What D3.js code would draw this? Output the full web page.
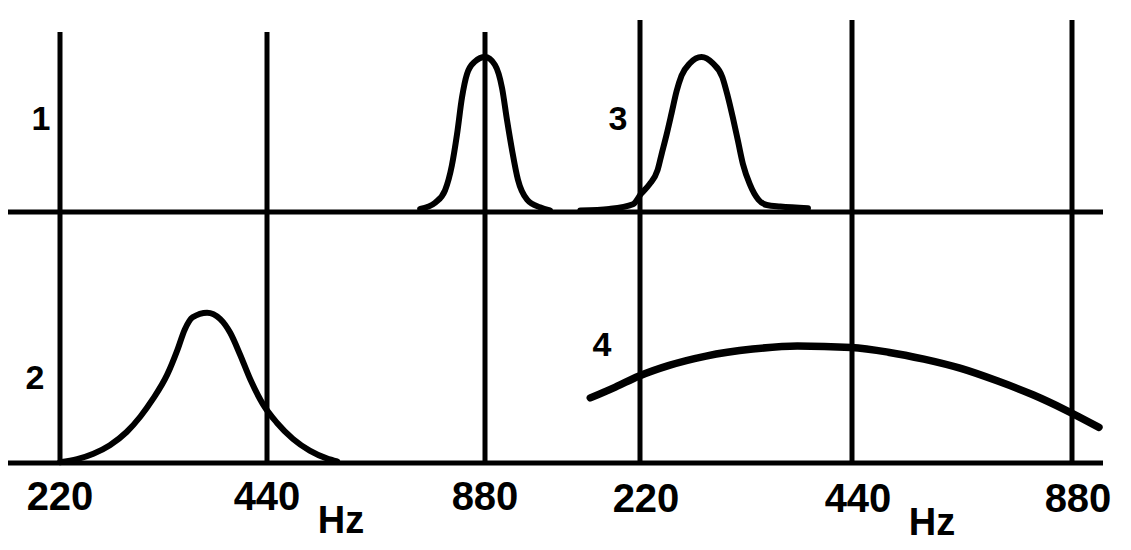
<!DOCTYPE html>
<html>
<head>
<meta charset="utf-8">
<script src="https://cdn.jsdelivr.net/npm/d3@7"></script>
<style>
  html, body { margin: 0; padding: 0; background: #fff; }
  svg { display: block; }
  text { font-family: "Liberation Sans", Arial, sans-serif; font-weight: bold; fill: #000; }
</style>
</head>
<body>
<svg id="chart" width="1131" height="550"></svg>
<script>
// ---- data ----
const tickFreqs = [220, 440, 880];
const tickLabels = ["220", "440", "880"];
const unitLabel = "Hz";
const curveNames = ["1", "2", "3", "4"];

// curve 1 : narrow band around 880 Hz (left panel, upper row)
const curve1Hz  = [716, 751, 775, 792, 805, 818, 831, 852, 880, 908, 929, 944, 959, 977, 1006, 1048, 1082];
const curve1Amp = [0.02, 0.06, 0.14, 0.30, 0.50, 0.74, 0.89, 0.97, 1.00, 0.95, 0.80, 0.59, 0.40, 0.21, 0.08, 0.03, 0.01];

// curve 2 : band around 360 Hz (left panel, lower row)
const curve2Hz  = [220, 233, 246, 260, 275, 288, 300, 315, 326, 334, 343, 360, 376, 389, 402, 416, 434, 454, 478, 504, 532, 550];
const curve2Amp = [0.005, 0.025, 0.06, 0.115, 0.20, 0.30, 0.41, 0.57, 0.73, 0.86, 0.94, 0.97, 0.93, 0.84, 0.70, 0.54, 0.38, 0.26, 0.155, 0.08, 0.03, 0.01];

// curve 3 : band around 270 Hz (right panel, upper row)
const curve3Hz  = [181, 199, 215, 221, 227, 233, 236, 240, 244, 248, 252, 259, 269, 279, 288, 293, 298, 303, 308, 315, 324, 333, 348, 381];
const curve3Amp = [0.01, 0.02, 0.05, 0.12, 0.18, 0.27, 0.37, 0.50, 0.64, 0.78, 0.88, 0.96, 1.00, 0.96, 0.87, 0.75, 0.61, 0.46, 0.31, 0.18, 0.08, 0.045, 0.035, 0.025];

// curve 4 : broad band (right panel, lower row)
const curve4Hz  = [187, 203, 219, 242, 273, 318, 368, 439, 493, 552, 620, 695, 778, 864, 958];
const curve4Amp = [0.42, 0.49, 0.56, 0.63, 0.69, 0.735, 0.755, 0.745, 0.715, 0.67, 0.61, 0.53, 0.44, 0.34, 0.23];

// ---- layout ----
const svg = d3.select("#chart");
svg.append("rect").attr("width", 1131).attr("height", 550).attr("fill", "#fff");

const panels = [
  { x: d3.scaleLog().domain(tickFreqs).range([60, 267, 485]), left: 8, right: 560, top: 32, labelDx: 0, hzX: 341, labelY: 510, hzY: 533 },
  { x: d3.scaleLog().domain(tickFreqs).range([640, 852, 1072]), left: 560, right: 1103, top: 20, labelDx: 6, hzX: 932, labelY: 512, hzY: 535 }
];
const rows = [
  d3.scaleLinear().domain([0, 1]).range([212, 57]),
  d3.scaleLinear().domain([0, 1]).range([463, 308])
];

const ink = "#000";
const lw = 5;

panels.forEach(p => {
  svg.append("g").selectAll("line").data(tickFreqs).join("line")
    .attr("x1", d => p.x(d)).attr("x2", d => p.x(d))
    .attr("y1", p.top).attr("y2", rows[1](0) + 2)
    .attr("stroke", ink).attr("stroke-width", lw);
  rows.forEach(y => {
    svg.append("line")
      .attr("x1", p.left).attr("x2", p.right)
      .attr("y1", y(0)).attr("y2", y(0))
      .attr("stroke", ink).attr("stroke-width", lw);
  });
  svg.append("g").selectAll("text").data(tickFreqs).join("text")
    .attr("x", d => p.x(d) + p.labelDx)
    .attr("y", p.labelY)
    .attr("text-anchor", "middle")
    .attr("font-size", 40)
    .text((d, i) => tickLabels[i]);
  svg.append("text")
    .attr("x", p.hzX).attr("y", p.hzY)
    .attr("text-anchor", "middle")
    .attr("font-size", 38)
    .text(unitLabel);
});

const curves = [
  { hz: curve1Hz, amp: curve1Amp, panel: 0, row: 0, w: 6, label: curveNames[0], lx: 41, ly: 130 },
  { hz: curve2Hz, amp: curve2Amp, panel: 0, row: 1, w: 6, label: curveNames[1], lx: 35, ly: 389 },
  { hz: curve3Hz, amp: curve3Amp, panel: 1, row: 0, w: 6, label: curveNames[2], lx: 618, ly: 130 },
  { hz: curve4Hz, amp: curve4Amp, panel: 1, row: 1, w: 7.5, label: curveNames[3], lx: 602, ly: 356 }
];

curves.forEach(c => {
  const xs = panels[c.panel].x, ys = rows[c.row];
  const pts = c.hz.map((h, i) => [h, c.amp[i]]);
  const line = d3.line()
    .x(d => xs(d[0]))
    .y(d => ys(d[1]))
    .curve(d3.curveMonotoneX);
  svg.append("path")
    .attr("d", line(pts))
    .attr("fill", "none")
    .attr("stroke", ink)
    .attr("stroke-width", c.w)
    .attr("stroke-linejoin", "round")
    .attr("stroke-linecap", "round");
  svg.append("text")
    .attr("x", c.lx).attr("y", c.ly)
    .attr("text-anchor", "middle")
    .attr("font-size", 34)
    .text(c.label);
});
</script>
</body>
</html>
